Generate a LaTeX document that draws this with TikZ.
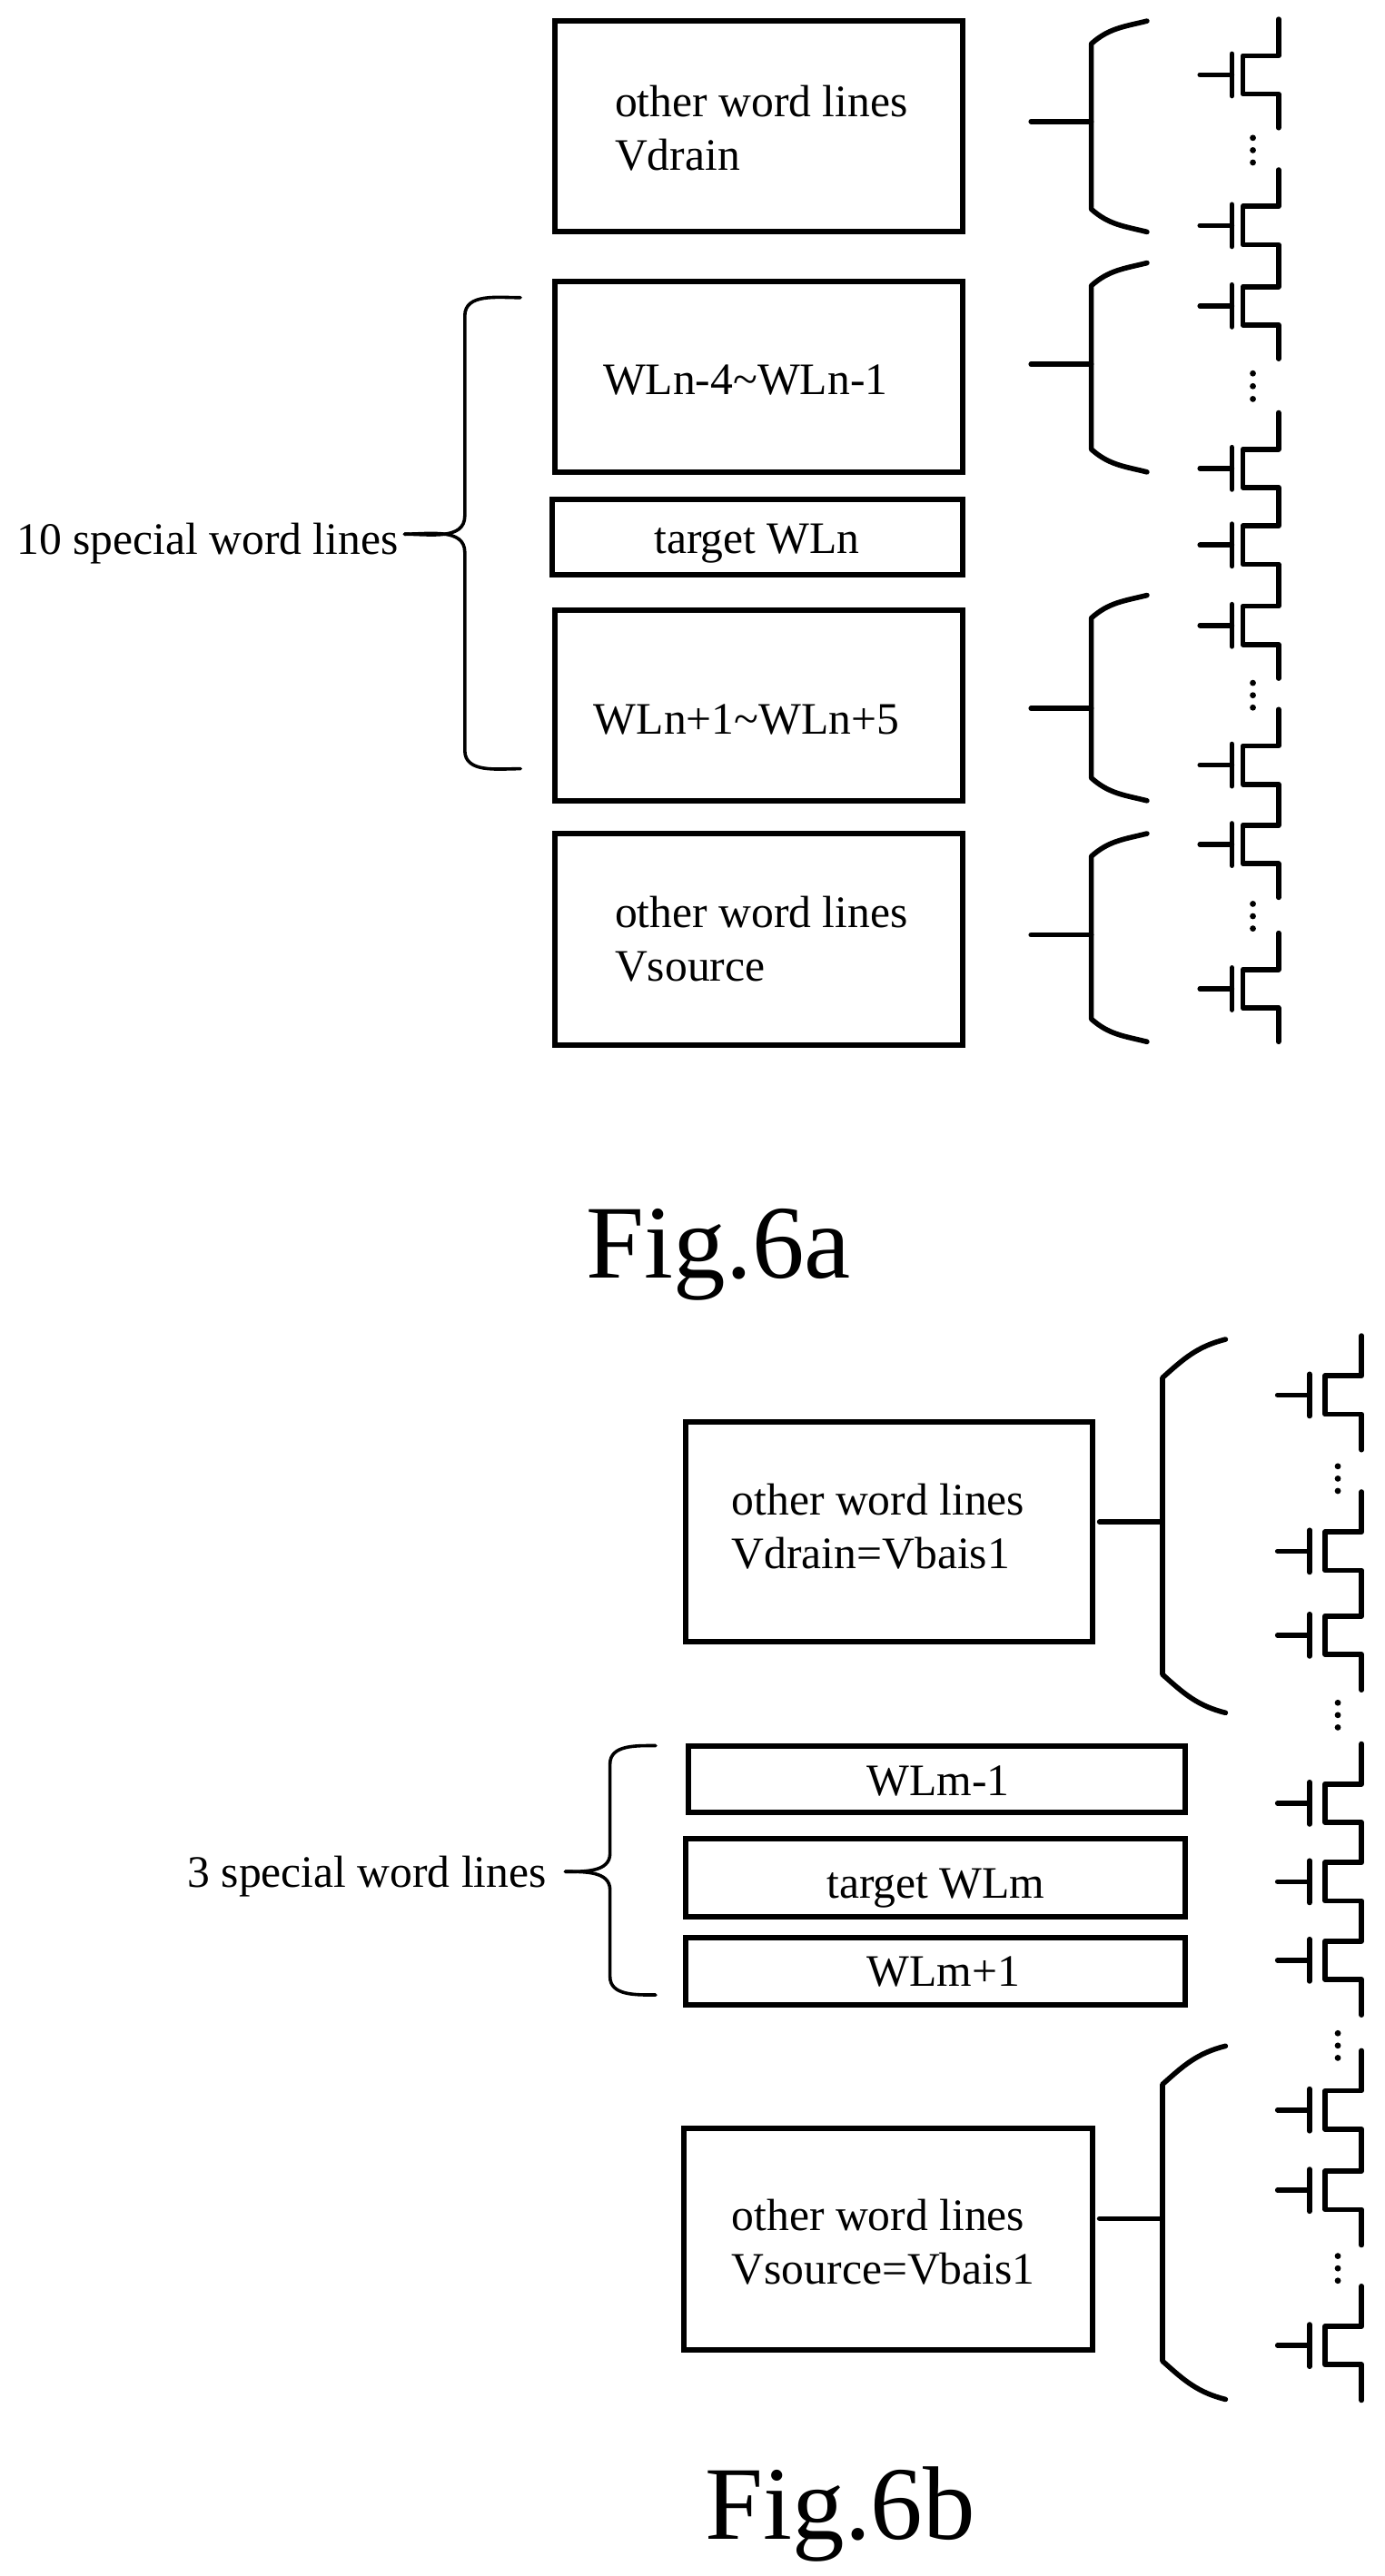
\documentclass[tikz,border=0pt]{standalone}
\usepackage{fontspec}
\setmainfont{Liberation Serif}
\usetikzlibrary{fit}
\tikzset{
  wordbox/.style={draw=black,line width=3pt,inner sep=0pt},
  wordtext/.style={anchor=west,align=left,inner sep=0pt,font=\fontsize{24.8}{29.5}\selectfont},
  figtext/.style={anchor=west,inner sep=0pt,font=\fontsize{57.5}{60}\selectfont},
  wire/.style={line width=2.8pt,line join=round,line cap=round},
  thinwire/.style={line width=1.8pt,line cap=round}
}
% name, left, top, right, bottom
\newcommand\DrawBox[5]{
  \path (#2,#3) coordinate (#1a) (#4,#5) coordinate (#1b);
  \node[wordbox,fit=(#1a)(#1b)] (#1) {};
}
% left of the brace, y of the top end, y of the bottom end, bend, y of the lead, lead start, width
\newcommand\DrawBrace[7]{
  \coordinate (bracetop) at (#1+#7,#2);
  \coordinate (bracebot) at (#1+#7,#3);
  \coordinate (bracelead) at (#6,#5);
  \draw[wire] (bracetop) to[out=194,in=42] (#1,#2+#4) -- (#1,#3-#4) to[out=-42,in=166] (bracebot);
  \draw[wire] (bracelead) -- (#1,#5);
}
% left of the lead, y of the gate, top stub, bottom stub, channel offset, drain offset
\newcommand\DrawFet[6]{
  \coordinate (fetlead) at (#1,#2);
  \coordinate (fetbar) at (#1+35,#2);
  \coordinate (fetd) at (#1+#6,#2-#3);
  \coordinate (fets) at (#1+#6,#2+#4);
  \draw[wire] (fetlead) -- (fetbar);
  \draw[wire] (#1+35,#2-23) -- (#1+35,#2+23);
  \draw[wire] (fetd) -- (#1+#6,#2-21) -- (#1+#5,#2-21) -- (#1+#5,#2+21) -- (#1+#6,#2+21) -- (fets);
}
% x, top end, tip x, tip y, bottom end, end x
\newcommand\DrawSpecial[6]{
  \coordinate (tip) at (#3,#4);
  \draw[thinwire] (#6,#2) to[out=180,in=90] (#1,#2+20) -- (#1,#4-20) to[out=-90,in=0] (tip);
  \draw[thinwire] (tip) to[out=0,in=90] (#1,#4+20) -- (#1,#5-20) to[out=-90,in=180] (#6,#5);
}
\begin{document}
\begin{tikzpicture}[x=0.50275pt,y=-0.50275pt]
	\useasboundingbox (0,0) rectangle (1515.7,2821.5);

	% the boxes of the upper figure
	\DrawBox{drainA}{608}{23}{1054}{254}
	\DrawBox{lowerA}{608}{308}{1054}{517}
	\DrawBox{targetA}{605}{547}{1054}{630}
	\DrawBox{upperA}{608}{668}{1054}{877}
	\DrawBox{sourceA}{608}{913}{1054}{1145}

	\node[wordtext] at (673,140) {other word lines\\Vdrain};
	\node[wordtext] at (660,416) {WLn-4\textasciitilde WLn-1};
	\node[wordtext] at (716,595) {target WLn};
	\node[wordtext] at (650,788) {WLn+1\textasciitilde WLn+5};
	\node[wordtext] at (673,1029) {other word lines\\Vsource};
	\node[wordtext] at (18,595) {10 special word lines};
	\DrawSpecial{509}{326}{443}{585}{842}{570}

	% braces
	\DrawBrace{1195}{23}{254}{25}{133}{1129}{61}
	\DrawBrace{1195}{288}{517}{25}{399}{1129}{61}
	\DrawBrace{1195}{652}{877}{25}{776}{1129}{61}
	\DrawBrace{1195}{913}{1141}{25}{1024}{1129}{61}

	% transistors
	\foreach \Gate/\Top/\Bottom in {82/61/58,247/61/44,335/44/58,513/61/44,597/44/44,685/44/58,
	  838/61/44,925/44/58,1083/61/58}
	  \DrawFet{1314}{\Gate}{\Top}{\Bottom}{47}{86};
	\foreach \Dot in {151,164.5,178,409,423,437,748,761.5,775,990,1003.5,1017}
	  \fill (1372,\Dot) circle (1.7pt);

	\node[figtext] at (642,1374) {Fig.6a};

	% the boxes of the lower figure
	\DrawBox{drainB}{751}{1557}{1196}{1798}
	\DrawBox{lowerB}{754}{1912}{1298}{1985}
	\DrawBox{targetB}{751}{2014}{1298}{2099}
	\DrawBox{upperB}{751}{2122}{1298}{2196}
	\DrawBox{sourceB}{749}{2331}{1196}{2574}

	\node[wordtext] at (801,1672) {other word lines\\Vdrain=Vbais1};
	\node[wordtext] at (949,1951) {WLm-1};
	\node[wordtext] at (905,2068) {target WLm};
	\node[wordtext] at (949,2160) {WLm+1};
	\node[wordtext] at (801,2456) {other word lines\\Vsource=Vbais1};
	\node[wordtext] at (205,2055) {3 special word lines};
	\DrawSpecial{668}{1912}{619}{2050}{2185}{718}

	% braces
	\DrawBrace{1273}{1467}{1876}{42}{1667}{1204}{69}
	\DrawBrace{1273}{2241}{2628}{42}{2430}{1204}{69}

	% transistors
	\foreach \Gate/\Top/\Bottom in {1528/65/60,1699/65/46,1791/46/60,1975/65/44,2061/44/44,2147/44/60,
	  2311/65/44,2399/44/60,2569/65/60}
	  \DrawFet{1399}{\Gate}{\Top}{\Bottom}{52}{92};
	\foreach \Dot in {1606,1619.5,1633,1865,1878.5,1892,2227,2240.5,2254,2471,2484.5,2498}
	  \fill (1465,\Dot) circle (1.7pt);

	\node[figtext] at (772,2754) {Fig.6b};
\end{tikzpicture}
\end{document}
